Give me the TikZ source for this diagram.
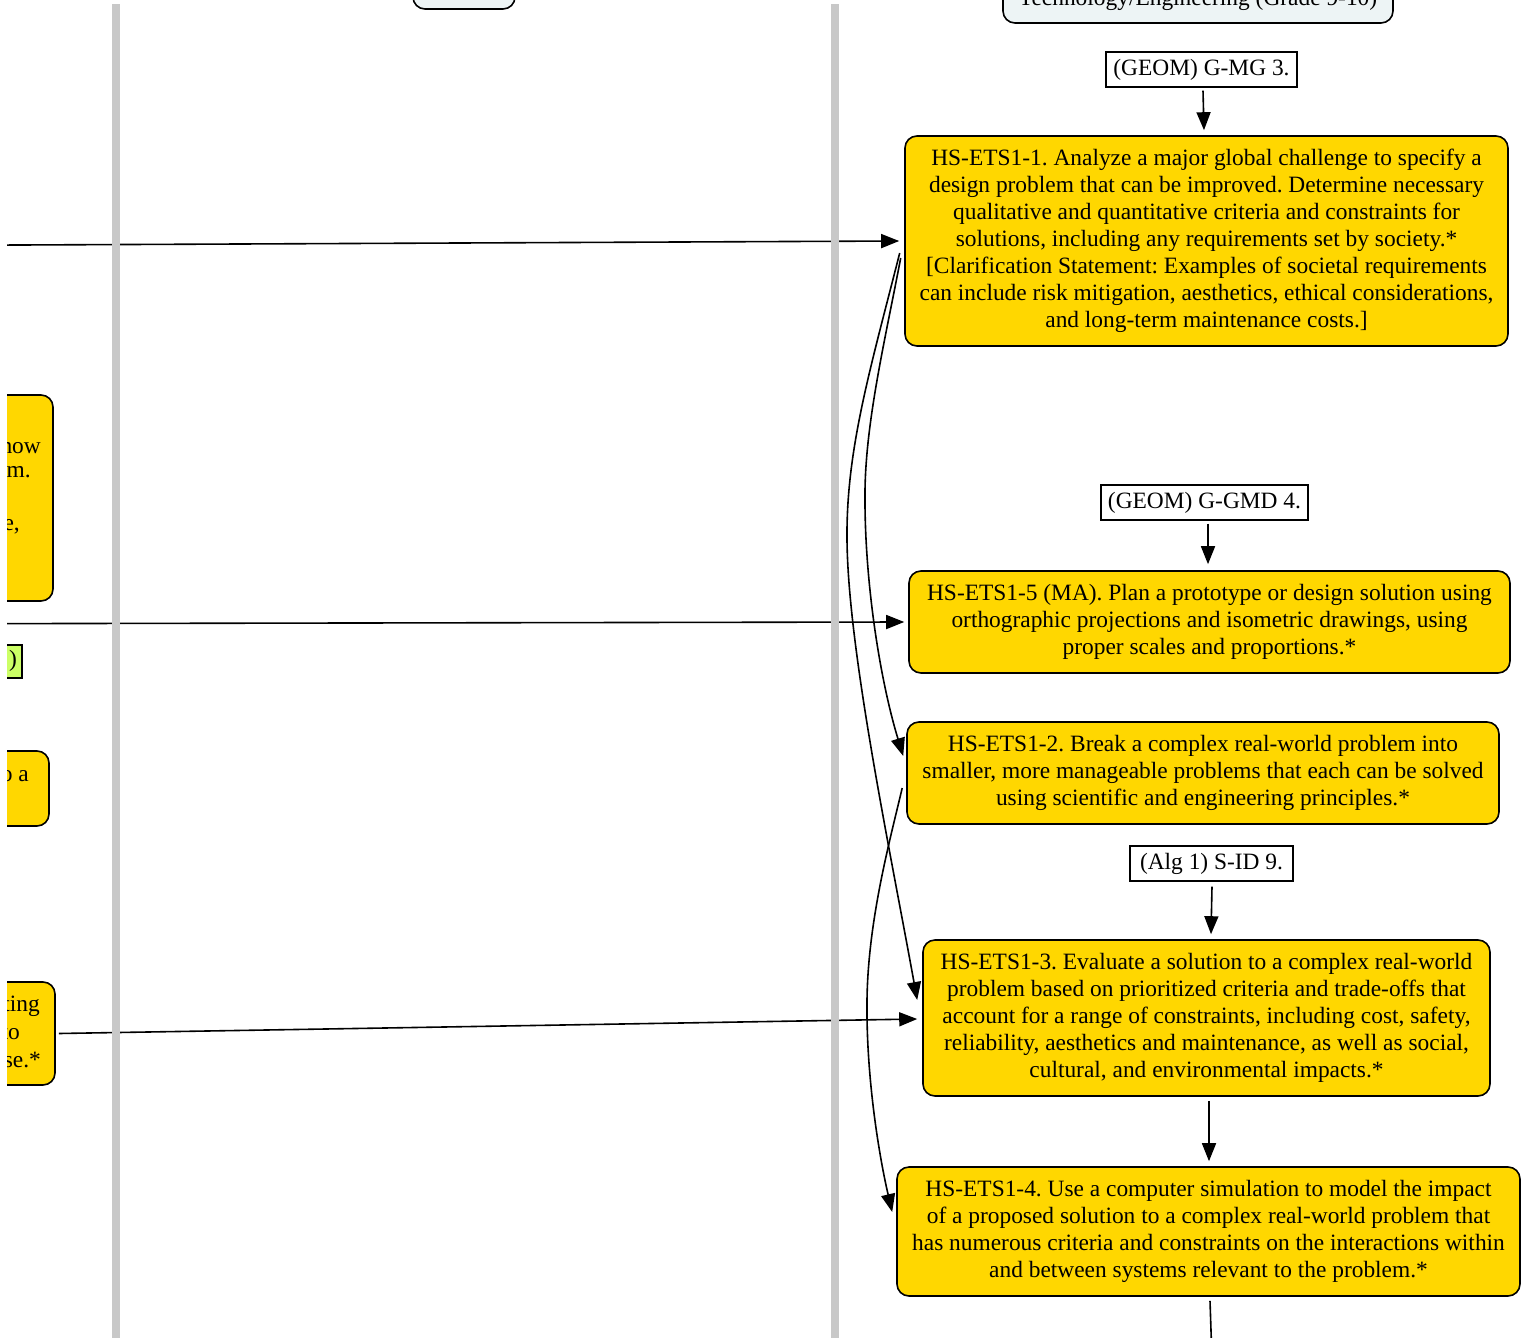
\documentclass[tikz,border=0pt]{standalone}
\usepackage{fontspec}
\setmainfont{Liberation Serif}
\usetikzlibrary{arrows.meta,calc}
\frenchspacing
\definecolor{goldfill}{HTML}{FFD700}
\definecolor{headfill}{HTML}{EDF4F5}
\definecolor{greenfill}{HTML}{CCFF66}
\definecolor{bargray}{HTML}{C8C8C8}
\tikzset{
  txt/.style={font=\fontsize{23.4}{27}\selectfont},
  stdbox/.style={draw=black, line width=1.6pt, fill=goldfill, rounded corners=12pt, align=center, inner sep=0pt, txt},
  mathbox/.style={draw=black, line width=1.4pt, fill=white, align=center, inner sep=0pt, txt},
  headbox/.style={draw=black, line width=1.6pt, fill=headfill, rounded corners=12pt},
  frag/.style={anchor=east, inner sep=0pt, txt},
  edge/.style={line width=1.6pt, -{Triangle[length=18pt,width=14pt]}},
  plain/.style={line width=1.6pt},
  bar/.style={fill=bargray, draw=none}
}
\begin{document}
\frenchspacing
\begin{tikzpicture}[x=1pt,y=-1pt]
\useasboundingbox (0,0) rectangle (1521,1338);
\clip (7,0) rectangle (1521,1338);

% header boxes (cut at top)
\node[headbox, minimum width=102pt, minimum height=60pt, inner sep=0pt] (hdrL) at (464,-21) {};
\node[headbox, minimum width=390pt, minimum height=80pt, inner sep=0pt] (hdrR) at (1198,-17) {};
\node[txt, anchor=base, inner sep=0pt] (hdrRt) at (1198,6) {Technology/Engineering (Grade 9-10)};

% left partial nodes
\node[stdbox, minimum width=400pt, minimum height=206pt] (leftA) at (-147,498) {};
\node[frag] (fa1) at (41,445) {how};
\node[frag] (fa2) at (31,472) {m.};
\node[frag] (fa3) at (20,527) {e,};
\node[draw=black, line width=1.2pt, fill=greenfill, minimum width=222pt, minimum height=33pt, inner sep=0pt] (green) at (-89,661.5) {};
\node[frag] (fg1) at (17,661) {)};
\node[stdbox, minimum width=400pt, minimum height=75pt] (leftB) at (-151,788.5) {};
\node[frag] (fb1) at (29,775) {to a};
\node[stdbox, minimum width=400pt, minimum height=103pt] (leftC) at (-145,1033.5) {};
\node[frag] (fc1) at (40,1006) {ting};
\node[frag] (fc2) at (20,1033) {to};
\node[frag] (fc3) at (41,1060) {se.*};

% math boxes
\node[mathbox, minimum width=191pt, minimum height=35pt] (gmg) at (1201.5,69.5) {(GEOM) G-MG 3.};
\node[mathbox, minimum width=207pt, minimum height=35pt] (gmd) at (1204.5,502.5) {(GEOM) G-GMD 4.};
\node[mathbox, minimum width=163pt, minimum height=35pt] (sid) at (1211.5,863.5) {(Alg 1) S-ID 9.};

% standard nodes
\node[stdbox, minimum width=603pt, minimum height=210pt] (h1) at (1206.5,241) {HS-ETS1-1. Analyze a major global challenge to specify a\\ design problem that can be improved. Determine necessary\\ qualitative and quantitative criteria and constraints for\\ solutions, including any requirements set by society.*\\ {[}Clarification Statement: Examples of societal requirements\\ can include risk mitigation, aesthetics, ethical considerations,\\ and long-term maintenance costs.{]}};
\node[stdbox, minimum width=601pt, minimum height=102pt] (h5) at (1209.5,622) {HS-ETS1-5 (MA). Plan a prototype or design solution using\\ orthographic projections and isometric drawings, using\\ proper scales and proportions.*};
\node[stdbox, minimum width=592pt, minimum height=102pt] (h2) at (1203,773) {HS-ETS1-2. Break a complex real-world problem into\\ smaller, more manageable problems that each can be solved\\ using scientific and engineering principles.*};
\node[stdbox, minimum width=567pt, minimum height=156pt] (h3) at (1206.5,1018) {HS-ETS1-3. Evaluate a solution to a complex real-world\\ problem based on prioritized criteria and trade-offs that\\ account for a range of constraints, including cost, safety,\\ reliability, aesthetics and maintenance, as well as social,\\ cultural, and environmental impacts.*};
\node[stdbox, minimum width=623pt, minimum height=129pt] (h4) at (1208.5,1231.5) {HS-ETS1-4. Use a computer simulation to model the impact\\ of a proposed solution to a complex real-world problem that\\ has numerous criteria and constraints on the interactions within\\ and between systems relevant to the problem.*};

% off-canvas ends
\coordinate (srcA) at (-200,246);
\coordinate (srcB) at (-200,624);
\coordinate (sinkD) at (1212,1360);

% straight connectors
\draw[edge] ([xshift=1.5pt,yshift=-3pt]gmg.south) -- ([xshift=-2.5pt,yshift=5pt]h1.north);
\draw[edge] ([xshift=3.5pt,yshift=-3pt]gmd.south) -- ([xshift=-1.5pt,yshift=6pt]h5.north);
\draw[edge] ([xshift=0.5pt,yshift=-5pt]sid.south) -- ([xshift=4.5pt,yshift=5pt]h3.north);
\draw[edge] ([xshift=2.5pt,yshift=-4pt]h3.south) -- ([xshift=0.5pt,yshift=5pt]h4.north);
\draw[plain] ([xshift=1.5pt,yshift=-4pt]h4.south) -- (sinkD);
\draw[edge] (srcA) -- ([xshift=-5pt]h1.west);
\draw[edge] (srcB) -- ([xshift=-4pt]h5.west);
\draw[edge] ([xshift=3pt]leftC.east) -- ([xshift=-5pt,yshift=-1pt]h3.west);

% curved connectors
\draw[edge] ([xshift=-3.5pt,yshift=-17pt]h1.west) .. controls (885,340) and (866,420) .. (865,490) .. controls (864,580) and (880,680) .. ([xshift=-3pt,yshift=17pt]h2.west);
\draw[edge] ([xshift=-4.5pt,yshift=-12pt]h1.west) .. controls (870,370) and (846,450) .. (847,540) .. controls (848,650) and (890,850) .. ([xshift=-5pt,yshift=18pt]h3.west);
\draw[edge] ([xshift=-4pt,yshift=-15pt]h2.west) .. controls (890,840) and (868,920) .. (867,1000) .. controls (866,1080) and (880,1160) .. ([xshift=-4pt,yshift=19.5pt]h4.west);

% swimlane bars (drawn over connectors)
\fill[bar] (112,4) rectangle (120,1345);
\fill[bar] (831,4) rectangle (839,1345);
\end{tikzpicture}
\end{document}
